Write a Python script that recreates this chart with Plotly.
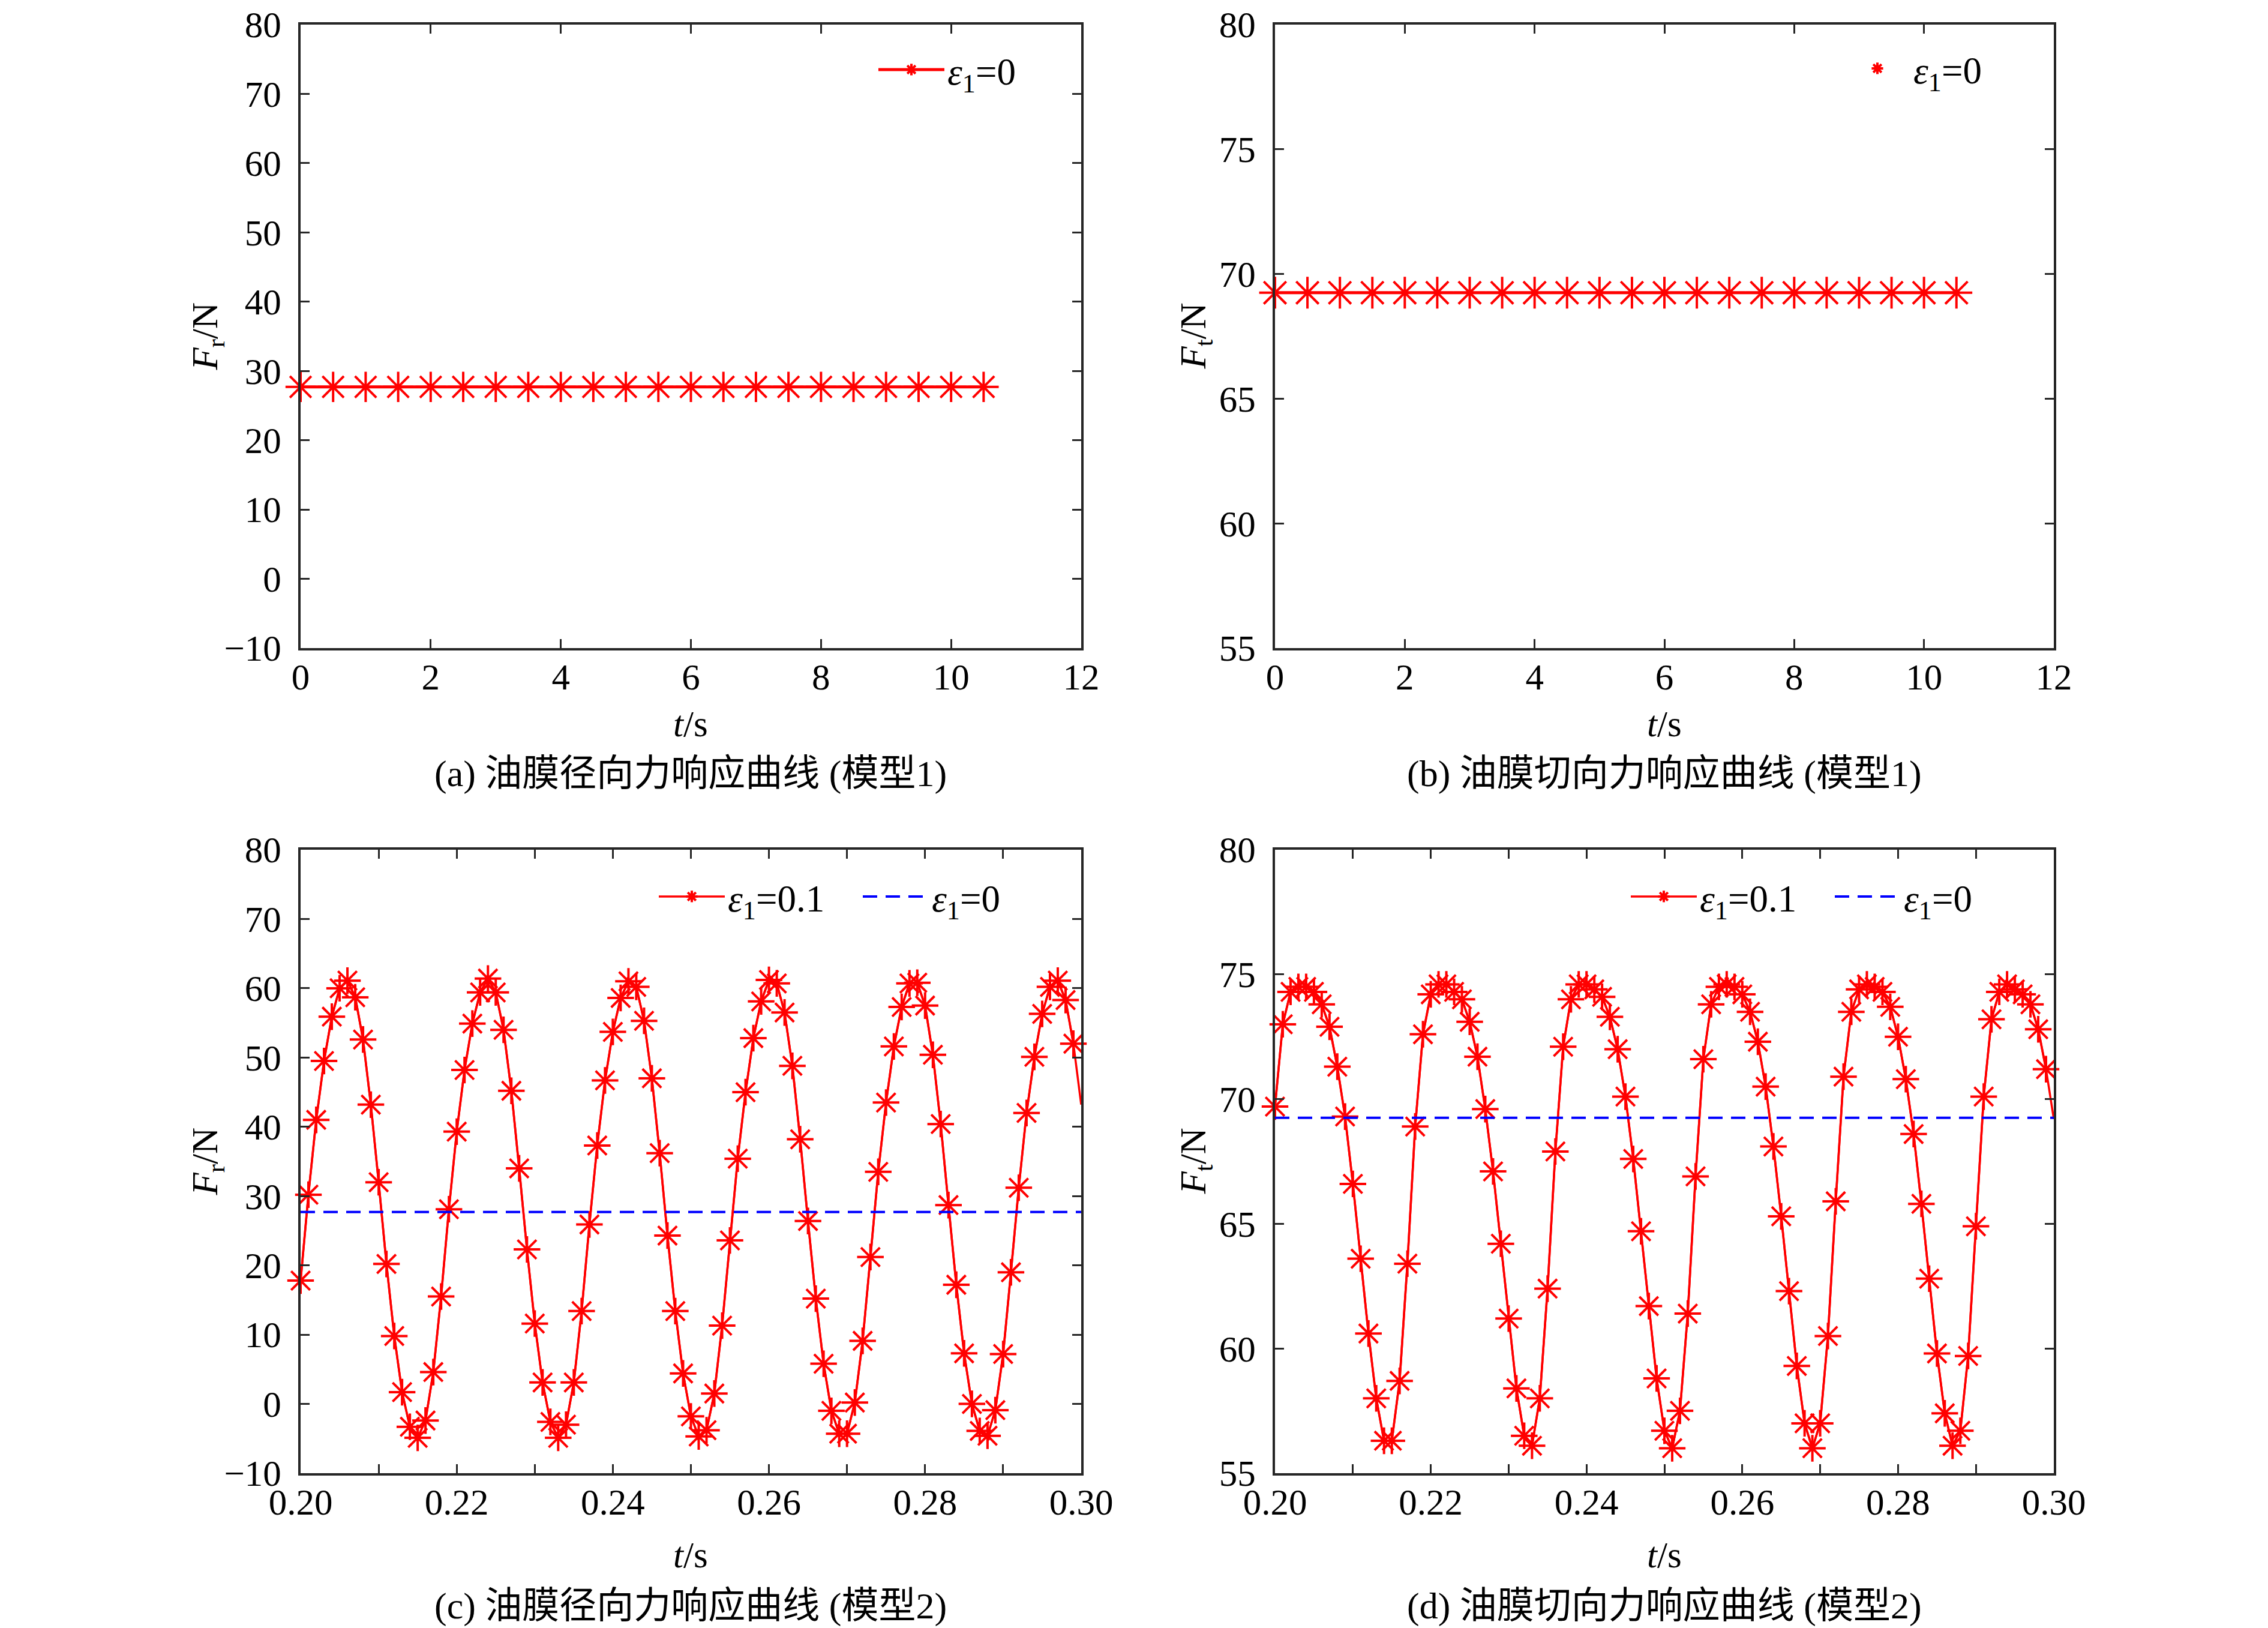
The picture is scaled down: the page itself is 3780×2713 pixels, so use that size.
import plotly.graph_objects as go

# ---- data ----
t_model1 = [0, 0.5, 1, 1.5, 2, 2.5, 3, 3.5, 4, 4.5, 5, 5.5,
            6, 6.5, 7, 7.5, 8, 8.5, 9, 9.5, 10, 10.5]
fr_model1 = [27.7] * len(t_model1)
ft_model1 = [69.25] * len(t_model1)

t_model2 = [0.200, 0.201, 0.202, 0.203, 0.204, 0.205, 0.206, 0.207, 0.208, 0.209,
            0.210, 0.211, 0.212, 0.213, 0.214, 0.215, 0.216, 0.217, 0.218, 0.219,
            0.220, 0.221, 0.222, 0.223, 0.224, 0.225, 0.226, 0.227, 0.228, 0.229,
            0.230, 0.231, 0.232, 0.233, 0.234, 0.235, 0.236, 0.237, 0.238, 0.239,
            0.240, 0.241, 0.242, 0.243, 0.244, 0.245, 0.246, 0.247, 0.248, 0.249,
            0.250, 0.251, 0.252, 0.253, 0.254, 0.255, 0.256, 0.257, 0.258, 0.259,
            0.260, 0.261, 0.262, 0.263, 0.264, 0.265, 0.266, 0.267, 0.268, 0.269,
            0.270, 0.271, 0.272, 0.273, 0.274, 0.275, 0.276, 0.277, 0.278, 0.279,
            0.280, 0.281, 0.282, 0.283, 0.284, 0.285, 0.286, 0.287, 0.288, 0.289,
            0.290, 0.291, 0.292, 0.293, 0.294, 0.295, 0.296, 0.297, 0.298, 0.299]
fr_model2 = [17.8, 30.2, 41.0, 49.5, 55.9, 60.0, 61.1, 58.7, 52.6, 43.2,
             32.0, 20.2, 9.8, 1.7, -3.3, -4.9, -2.4, 4.6, 15.5, 28.1,
             39.3, 48.2, 54.9, 59.4, 61.4, 59.4, 54.0, 45.2, 34.0, 22.3,
             11.6, 3.1, -2.6, -4.9, -3.0, 3.1, 13.4, 25.9, 37.3, 46.7,
             53.7, 58.6, 61.0, 60.2, 55.3, 47.0, 36.2, 24.3, 13.4, 4.4,
             -1.8, -4.7, -3.8, 1.5, 11.3, 23.6, 35.4, 45.0, 52.8, 58.1,
             61.2, 60.7, 56.5, 48.8, 38.2, 26.4, 15.2, 5.8, -1.0, -4.3,
             -4.3, 0.2, 9.1, 21.2, 33.5, 43.5, 51.6, 57.3, 60.7, 60.8,
             57.5, 50.4, 40.4, 28.7, 17.2, 7.3, 0.0, -3.9, -4.6, -0.9,
             7.2, 19.0, 31.2, 42.0, 50.1, 56.3, 60.2, 61.1, 58.3, 52.0]
ft_model2 = [69.7, 73.0, 74.3, 74.5, 74.5, 74.3, 73.8, 72.9, 71.3, 69.3,
             66.6, 63.6, 60.6, 58.0, 56.3, 56.3, 58.7, 63.4, 68.9, 72.6,
             74.2, 74.6, 74.6, 74.3, 74.0, 73.1, 71.7, 69.6, 67.1, 64.2,
             61.2, 58.4, 56.5, 56.1, 58.0, 62.4, 67.9, 72.1, 74.0, 74.6,
             74.6, 74.4, 74.1, 73.3, 72.0, 70.1, 67.6, 64.7, 61.7, 58.8,
             56.7, 56.0, 57.5, 61.4, 66.9, 71.6, 73.8, 74.5, 74.6, 74.5,
             74.2, 73.5, 72.3, 70.5, 68.1, 65.3, 62.3, 59.3, 57.0, 56.0,
             57.0, 60.5, 65.9, 70.9, 73.5, 74.4, 74.6, 74.5, 74.3, 73.7,
             72.5, 70.8, 68.6, 65.8, 62.8, 59.8, 57.4, 56.1, 56.7, 59.7,
             64.9, 70.1, 73.2, 74.3, 74.6, 74.4, 74.2, 73.8, 72.8, 71.2]
# the solid curve runs on to the right edge, past the last marker
t_end = 0.300
fr_end = 43.2
ft_end = 69.2

t_span2 = [0.200, 0.300]
fr_eps0 = [27.7, 27.7]
ft_eps0 = [69.25, 69.25]

x1_ticks = [0, 2, 4, 6, 8, 10, 12]
x2_ticks = [0.20, 0.21, 0.22, 0.23, 0.24, 0.25, 0.26, 0.27, 0.28, 0.29, 0.30]
x2_labels = ['0.20', '', '0.22', '', '0.24', '', '0.26', '', '0.28', '', '0.30']
fr_ticks = [-10, 0, 10, 20, 30, 40, 50, 60, 70, 80]
ft_ticks = [55, 60, 65, 70, 75, 80]

captions = ['(a) 油膜径向力响应曲线 (模型1)', '(b) 油膜切向力响应曲线 (模型1)',
            '(c) 油膜径向力响应曲线 (模型2)', '(d) 油膜切向力响应曲线 (模型2)']

RED = 'rgb(255,0,0)'
BLUE = 'rgb(0,0,255)'
AX = '#262626'
FONT = 'Liberation Serif, Noto Sans CJK SC'
W, H = 3780, 2713


def star(size, width):
    return dict(symbol='asterisk-open', size=size, color=RED,
                line=dict(color=RED, width=width))


fig = go.Figure()

# (a)
fig.add_trace(go.Scatter(x=t_model1, y=fr_model1, mode='lines+markers',
                         name='<i>ε</i><sub>1</sub>=0', legend='legend',
                         line=dict(color=RED, width=5), marker=star(42, 4),
                         cliponaxis=False, xaxis='x', yaxis='y'))
# (b)
fig.add_trace(go.Scatter(x=t_model1, y=ft_model1, mode='lines', showlegend=False,
                         line=dict(color=RED, width=5), xaxis='x2', yaxis='y2'))
fig.add_trace(go.Scatter(x=t_model1, y=ft_model1, mode='markers',
                         name='<i>ε</i><sub>1</sub>=0', legend='legend2',
                         marker=star(44, 4),
                         cliponaxis=False, xaxis='x2', yaxis='y2'))
# (c)
fig.add_trace(go.Scatter(x=t_model2 + [t_end], y=fr_model2 + [fr_end], mode='lines',
                         showlegend=False, line=dict(color=RED, width=3.5),
                         xaxis='x3', yaxis='y3'))
fig.add_trace(go.Scatter(x=t_model2, y=fr_model2, mode='lines+markers',
                         name='<i>ε</i><sub>1</sub>=0.1', legend='legend3',
                         line=dict(color=RED, width=3.5), marker=star(37, 4),
                         cliponaxis=False, xaxis='x3', yaxis='y3'))
fig.add_trace(go.Scatter(x=t_span2, y=fr_eps0, mode='lines',
                         name='<i>ε</i><sub>1</sub>=0', legend='legend3',
                         line=dict(color=BLUE, width=4, dash='24px,14px'),
                         xaxis='x3', yaxis='y3'))
# (d)
fig.add_trace(go.Scatter(x=t_model2 + [t_end], y=ft_model2 + [ft_end], mode='lines',
                         showlegend=False, line=dict(color=RED, width=3.5),
                         xaxis='x4', yaxis='y4'))
fig.add_trace(go.Scatter(x=t_model2, y=ft_model2, mode='lines+markers',
                         name='<i>ε</i><sub>1</sub>=0.1', legend='legend4',
                         line=dict(color=RED, width=3.5), marker=star(37, 4),
                         cliponaxis=False, xaxis='x4', yaxis='y4'))
fig.add_trace(go.Scatter(x=t_span2, y=ft_eps0, mode='lines',
                         name='<i>ε</i><sub>1</sub>=0', legend='legend4',
                         line=dict(color=BLUE, width=4, dash='24px,14px'),
                         xaxis='x4', yaxis='y4'))


def axis(**kw):
    d = dict(showline=True, linecolor=AX, linewidth=4, mirror='ticks',
             ticks='inside', ticklen=15, tickwidth=3, tickcolor=AX,
             showgrid=False, zeroline=False, automargin=False,
             tickfont=dict(family=FONT, size=61, color='black'))
    d.update(kw)
    return d


def xaxis(**kw):
    return axis(ticklabelstandoff=-8, **kw)


def yaxis(**kw):
    return axis(ticklabelstandoff=16, **kw)


left = [493 / W, 1794 / W]
right = [2117 / W, 3415 / W]
top = [1 - 1072 / H, 1 - 33 / H]
bottom = [1 - 2447 / H, 1 - 1408 / H]

legend_style = dict(bgcolor='rgba(0,0,0,0)', borderwidth=0,
                    font=dict(family=FONT, size=63, color='black'),
                    xanchor='right', yanchor='middle', itemwidth=110)
row_legend = dict(legend_style, orientation='h',
                  entrywidth=215, entrywidthmode='pixels')

fig.update_layout(
    width=W, height=H, margin=dict(l=0, r=0, t=0, b=0, pad=0),
    paper_bgcolor='white', plot_bgcolor='white',
    font=dict(family=FONT, color='black'),
    xaxis=xaxis(domain=left, range=[0, 12], tickvals=x1_ticks, anchor='y'),
    yaxis=yaxis(domain=top, range=[-10, 80], tickvals=fr_ticks, anchor='x'),
    xaxis2=xaxis(domain=right, range=[0, 12], tickvals=x1_ticks, anchor='y2'),
    yaxis2=yaxis(domain=top, range=[55, 80], tickvals=ft_ticks, anchor='x2'),
    xaxis3=xaxis(domain=left, range=[0.2, 0.3], tickvals=x2_ticks,
                 ticktext=x2_labels, anchor='y3'),
    yaxis3=yaxis(domain=bottom, range=[-10, 80], tickvals=fr_ticks, anchor='x3'),
    xaxis4=xaxis(domain=right, range=[0.2, 0.3], tickvals=x2_ticks,
                 ticktext=x2_labels, anchor='y4'),
    yaxis4=yaxis(domain=bottom, range=[55, 80], tickvals=ft_ticks, anchor='x4'),
    legend=dict(legend_style, x=1690 / W, y=1 - 108 / H),
    legend2=dict(legend_style, x=3300 / W, y=1 - 106 / H),
    legend3=dict(row_legend, x=1765 / W, y=1 - 1486 / H),
    legend4=dict(row_legend, x=3385 / W, y=1 - 1486 / H),
)

ylabels = ['<i>F</i><sub>r</sub>/N', '<i>F</i><sub>t</sub>/N',
           '<i>F</i><sub>r</sub>/N', '<i>F</i><sub>t</sub>/N']
ytitle_shift = [-156, -133, -156, -133]
xtitle_shift = [-126, -126, -136, -136]
caption_shift = [-209, -209, -221, -221]
suffix = ['', '2', '3', '4']
for i in range(4):
    s = suffix[i]
    fig.add_annotation(text='<i>t</i>/s', xref='x%s domain' % s, yref='y%s domain' % s,
                       x=0.5, y=0, yanchor='middle', yshift=xtitle_shift[i],
                       showarrow=False, font=dict(family=FONT, size=61, color='black'))
    fig.add_annotation(text=captions[i], xref='x%s domain' % s, yref='y%s domain' % s,
                       x=0.5, y=0, yanchor='middle', yshift=caption_shift[i],
                       showarrow=False, font=dict(family=FONT, size=62, color='black'))
    fig.add_annotation(text=ylabels[i], xref='x%s domain' % s, yref='y%s domain' % s,
                       x=0, y=0.5, xanchor='center', xshift=ytitle_shift[i],
                       textangle=-90, showarrow=False,
                       font=dict(family=FONT, size=61, color='black'))

fig.write_html('out.html')
